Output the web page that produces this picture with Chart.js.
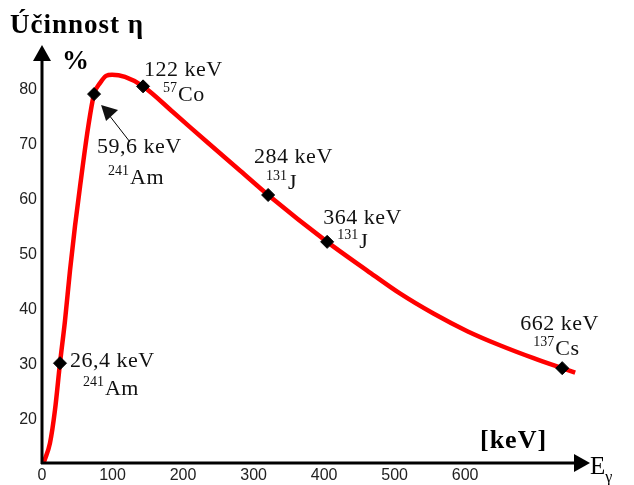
<!DOCTYPE html>
<html>
<head>
<meta charset="utf-8">
<script src="https://cdn.jsdelivr.net/npm/chart.js@4/dist/chart.umd.min.js"></script>
<style>
  body { margin: 0; background: #fff; }
</style>
</head>
<body>
<canvas id="effChart" width="634" height="485"></canvas>
<script>
// curve (energy in keV, efficiency in %)
const curveEnergy = [2.8, 11.3, 18.4, 25.5, 32.6, 39.7, 46.8, 53.9, 65.2, 73.8, 82.3, 90.8, 99.3, 117.7, 143.3, 186, 234, 281, 320.6, 404.3, 461, 508, 555, 603, 650, 697, 737.6, 756];
const curveEff = [12.4, 15.8, 21.8, 30.3, 38.0, 47.1, 55.2, 62.3, 72.9, 79.1, 81.1, 82.4, 82.6, 82.2, 80.5, 75.8, 70.4, 65.2, 60.8, 52.3, 47.1, 42.9, 39.3, 36.1, 33.5, 31.2, 29.4, 28.6];

// calibration points (marker positions as drawn)
const markerEnergy = [25.5, 73.8, 143.3, 320.6, 404.3, 737.6];
const markerEff = [30.3, 79.1, 80.5, 60.8, 52.3, 29.4];
const peakLabels = ['26,4 keV', '59,6 keV', '122 keV', '284 keV', '364 keV', '662 keV'];
const isoMass = ['241', '241', '57', '131', '131', '137'];
const isoSymbol = ['Am', 'Am', 'Co', 'J', 'J', 'Cs'];

const xTicks = [0, 100, 200, 300, 400, 500, 600];
const yTicks = [20, 30, 40, 50, 60, 70, 80];

// label offsets from each marker, in px: [text dx, text dy, iso dx, iso dy]
const labelOffsets = [
  [10, 4, 23, 32],
  [3, 59, 14, 90],
  [1, -10, 20, 15],
  [-14, -32, -2, -6],
  [-4, -18, 10, 6],
  [-42, -38, -29, -13]
];

const serif = '"Liberation Serif", "Times New Roman", serif';

function text(ctx, str, x, y, font, spacing) {
  ctx.font = font;
  ctx.letterSpacing = (spacing || 0) + 'px';
  ctx.fillText(str, x, y);
  const w = ctx.measureText(str).width;
  ctx.letterSpacing = '0px';
  return w;
}

const decorations = {
  id: 'decorations',
  afterDatasetsDraw(chart) {
    const ctx = chart.ctx;
    const xs = chart.scales.x, ys = chart.scales.y;
    const left = xs.getPixelForValue(0), bottom = ys.bottom;
    ctx.save();
    ctx.fillStyle = '#000';
    ctx.strokeStyle = '#000';
    ctx.textBaseline = 'alphabetic';
    ctx.textAlign = 'left';

    // axes with arrows
    ctx.lineWidth = 3;
    ctx.beginPath();
    ctx.moveTo(left, bottom + 1);
    ctx.lineTo(left, ys.top + 12);
    ctx.moveTo(left - 1, bottom);
    ctx.lineTo(xs.right - 12, bottom);
    ctx.stroke();
    ctx.beginPath();
    ctx.moveTo(left, ys.top);
    ctx.lineTo(left - 9, ys.top + 16);
    ctx.lineTo(left + 9, ys.top + 16);
    ctx.closePath();
    ctx.fill();
    ctx.beginPath();
    ctx.moveTo(xs.right, bottom);
    ctx.lineTo(xs.right - 16, bottom - 9);
    ctx.lineTo(xs.right - 16, bottom + 9);
    ctx.closePath();
    ctx.fill();

    // titles
    text(ctx, 'Účinnost η', 10, 33, 'bold 27px ' + serif, 1);
    text(ctx, '%', 62, 69, 'bold 27px ' + serif);
    text(ctx, '[keV]', 480, 448, 'bold 26px ' + serif, 1);
    const wE = text(ctx, 'E', 590, 474, '25px ' + serif);
    text(ctx, 'γ', 590 + wE, 482, '16px ' + serif);

    // peak annotations
    ctx.fillStyle = '#111';
    markerEnergy.forEach((e, i) => {
      const px = xs.getPixelForValue(e), py = ys.getPixelForValue(markerEff[i]);
      const o = labelOffsets[i];
      text(ctx, peakLabels[i], px + o[0], py + o[1], '22px ' + serif, 0.5);
      const wm = text(ctx, isoMass[i], px + o[2], py + o[3] - 9, '14px ' + serif);
      text(ctx, isoSymbol[i], px + o[2] + wm + 1, py + o[3], '22px ' + serif, 0.5);
    });

    // arrow pointing to the 59,6 keV point
    const ax = xs.getPixelForValue(markerEnergy[1]), ay = ys.getPixelForValue(markerEff[1]);
    const tipX = ax + 7, tipY = ay + 11;
    ctx.lineWidth = 1;
    ctx.beginPath();
    ctx.moveTo(tipX + 8, tipY + 10);
    ctx.lineTo(ax + 36, ay + 48);
    ctx.stroke();
    ctx.beginPath();
    ctx.moveTo(tipX, tipY);
    ctx.lineTo(tipX + 17, tipY + 5);
    ctx.lineTo(tipX + 5, tipY + 16);
    ctx.closePath();
    ctx.fill();
    ctx.restore();
  }
};

new Chart(document.getElementById('effChart'), {
  type: 'line',
  data: {
    datasets: [
      {
        data: curveEnergy.map((e, i) => ({ x: e, y: curveEff[i] })),
        borderColor: '#ff0000',
        borderWidth: 4.5,
        pointRadius: 0,
        cubicInterpolationMode: 'monotone',
        clip: false,
        order: 2
      },
      {
        data: markerEnergy.map((e, i) => ({ x: e, y: markerEff[i] })),
        showLine: false,
        pointStyle: 'rectRot',
        pointRadius: 6.5,
        backgroundColor: '#000',
        borderColor: '#000',
        borderWidth: 1,
        clip: false,
        order: 1
      }
    ]
  },
  options: {
    responsive: false,
    animation: false,
    events: [],
    layout: { padding: { left: 0, top: 45, right: 44, bottom: 0 } },
    plugins: { legend: { display: false }, tooltip: { enabled: false } },
    scales: {
      x: {
        type: 'linear',
        min: 0,
        max: 777,
        afterFit: s => { s.height = 22; },
        afterBuildTicks: s => { s.ticks = xTicks.map(v => ({ value: v })); },
        grid: { display: false, drawTicks: false },
        border: { display: false },
        ticks: { color: '#222', padding: 3, maxRotation: 0, font: { family: '"Liberation Sans", Arial, sans-serif', size: 16 } }
      },
      y: {
        type: 'linear',
        min: 12.2,
        max: 88,
        afterFit: s => { s.width = 42; },
        afterBuildTicks: s => { s.ticks = yTicks.map(v => ({ value: v })); },
        grid: { display: false, drawTicks: false },
        border: { display: false },
        ticks: { color: '#222', padding: 5, font: { family: '"Liberation Sans", Arial, sans-serif', size: 16 } }
      }
    }
  },
  plugins: [decorations]
});
</script>
</body>
</html>
